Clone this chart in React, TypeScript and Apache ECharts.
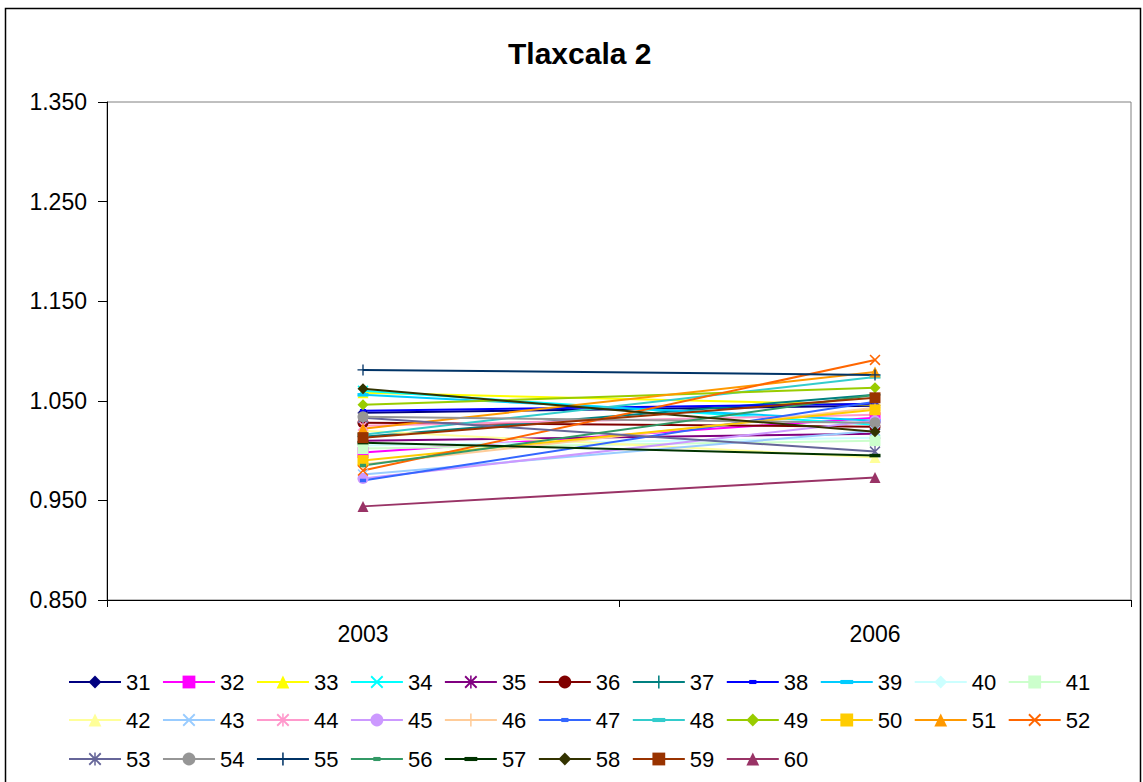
import React, { useEffect, useRef } from "react";
import * as echarts from "echarts";

const categories = ["2003", "2006"];
const seriesNames = [
  "31", "32", "33", "34", "35", "36", "37", "38", "39", "40",
  "41", "42", "43", "44", "45", "46", "47", "48", "49", "50",
  "51", "52", "53", "54", "55", "56", "57", "58", "59", "60",
];
const values2003 = [
  1.038, 0.998, 1.058, 1.06, 1.01, 1.028, 1.014, 1.04, 1.056, 1.005,
  1.002, 1.02, 0.976, 1.025, 0.972, 0.986, 0.97, 1.016, 1.046, 0.99,
  1.022, 0.98, 1.033, 1.034, 1.081, 0.985, 1.008, 1.062, 1.013, 0.944,
];
const values2006 = [
  1.045, 1.033, 1.046, 1.026, 1.017, 1.024, 1.056, 1.047, 1.03, 1.013,
  1.01, 0.993, 1.02, 1.036, 1.03, 1.043, 1.049, 1.074, 1.063, 1.041,
  1.079, 1.091, 0.999, 1.028, 1.076, 1.056, 0.995, 1.019, 1.053, 0.973,
];

const colors = [
  "#000080", "#FF00FF", "#FFFF00", "#00FFFF", "#800080", "#800000", "#008080", "#0000FF", "#00CCFF", "#CCFFFF",
  "#CCFFCC", "#FFFF99", "#99CCFF", "#FF99CC", "#CC99FF", "#FFCC99", "#3366FF", "#33CCCC", "#99CC00", "#FFCC00",
  "#FF9900", "#FF6600", "#666699", "#969696", "#003366", "#339966", "#003300", "#333300", "#993300", "#993366",
];

const X_PATH = "path://M0,1 L1,0 L10,9 L9,10 Z M9,0 L10,1 L1,10 L0,9 Z";
const STAR_PATH = "path://M0,1 L1,0 L10,9 L9,10 Z M9,0 L10,1 L1,10 L0,9 Z M4.4,0 L5.6,0 L5.6,10 L4.4,10 Z";
const PLUS_PATH = "path://M4.4,0 L5.6,0 L5.6,10 L4.4,10 Z M0,4.4 L10,4.4 L10,5.6 L0,5.6 Z";
const SHORT_DASH = "path://M0,0 M2.2,3.4 L7.8,3.4 L7.8,6.6 L2.2,6.6 Z M10,10";
const LONG_DASH = "path://M0,0 M0,3.4 L10,3.4 L10,6.6 L0,6.6 Z M10,10";
const markerCycle = ["diamond", "rect", "triangle", X_PATH, STAR_PATH, "circle", PLUS_PATH, SHORT_DASH, LONG_DASH];

const FONT = "Liberation Sans, Arial, sans-serif";

export default function App() {
  const ref = useRef<HTMLDivElement>(null);

  useEffect(() => {
    document.body.style.margin = "0";
    document.body.style.overflow = "hidden";
    const chart = echarts.init(ref.current!, null, { renderer: "svg" });

    const series = seriesNames.map((name, i) => ({
      name,
      type: "line",
      data: [values2003[i], values2006[i]],
      symbol: markerCycle[i % markerCycle.length],
      symbolSize: 11,
      showSymbol: true,
      color: colors[i],
      itemStyle: { color: colors[i] },
      lineStyle: { width: 2, color: colors[i] },
      emphasis: { disabled: true },
    }));

    const legendRow = (names: string[], top: number) => ({
      data: names,
      left: 68,
      top,
      padding: 0,
      orient: "horizontal",
      itemWidth: 52,
      itemHeight: 16,
      itemGap: 11.5,
      selectedMode: false,
      textStyle: { fontSize: 22, color: "#000", fontFamily: FONT },
    });

    chart.setOption({
      animation: false,
      backgroundColor: "#fff",
      title: {
        text: "Tlaxcala 2",
        left: 503,
        top: 33,
        textStyle: { fontSize: 30, fontWeight: "bold", color: "#000", fontFamily: FONT },
      },
      grid: {
        left: 107,
        top: 102,
        right: 12,
        bottom: 182,
        show: true,
        borderColor: "#808080",
        borderWidth: 1,
        backgroundColor: "transparent",
      },
      legend: [
        legendRow(seriesNames.slice(0, 11), 671),
        legendRow(seriesNames.slice(11, 22), 709),
        legendRow(seriesNames.slice(22), 748),
      ],
      xAxis: {
        type: "category",
        data: categories,
        boundaryGap: true,
        axisLine: { lineStyle: { color: "#000", width: 1 } },
        axisTick: { show: true, length: 7, lineStyle: { color: "#000" } },
        axisLabel: { margin: 22, fontSize: 23, color: "#000", fontFamily: FONT },
        splitLine: { show: false },
      },
      yAxis: {
        type: "value",
        min: 0.85,
        max: 1.35,
        interval: 0.1,
        axisLine: { show: true, lineStyle: { color: "#000", width: 1 } },
        axisTick: { show: true, length: 9, lineStyle: { color: "#000" } },
        axisLabel: {
          margin: 20,
          fontSize: 23,
          color: "#000",
          fontFamily: FONT,
          formatter: (v: number) => v.toFixed(3),
        },
        splitLine: { show: false },
      },
      graphic: [
        {
          type: "rect",
          shape: { x: 5.5, y: 8.5, width: 1135, height: 800 },
          style: { fill: "none", stroke: "#000", lineWidth: 1.5 },
          silent: true,
          z: 100,
        },
      ],
      series,
    });

    return () => chart.dispose();
  }, []);

  return <div ref={ref} style={{ width: 1143, height: 782 }} />;
}
